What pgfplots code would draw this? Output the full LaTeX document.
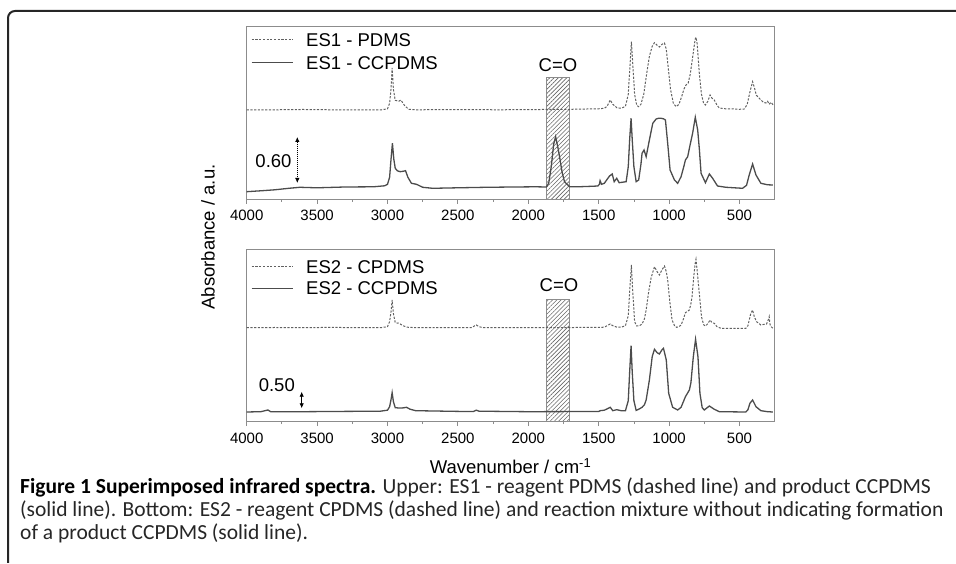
\documentclass[border=0pt]{standalone}
\usepackage{pgfplots}
\pgfplotsset{compat=1.18}
\usetikzlibrary{patterns.meta,arrows.meta}
\usepackage{fontspec}
\setmainfont{Liberation Sans}
\newfontfamily\capfont{Carlito}

\pgfplotsset{
  irax/.style={
    scale only axis, width=527.3pt, height=172.5pt,
    x dir=reverse, xmin=255, xmax=4000,
    ymin=0, ymax=172.5,
    xtick={500,1000,...,4000}, minor x tick num=1,
    xtick pos=left, ytick=\empty,
    tick align=outside, major tick length=4.5pt, minor tick length=2.5pt,
    axis line style={draw=black!45, line width=0.8pt},
    tick style={draw=black!45, line width=0.8pt},
    ticklabel style={font=\fontsize{15}{15}\selectfont},
    xticklabel style={yshift=-3pt},
    /pgf/number format/assume math mode=true,
    /pgf/number format/1000 sep={},
  },
}
\tikzset{
  spdash/.style={black!62, line width=1pt, dash pattern=on 2.2pt off 1.5pt},
  spsolid/.style={black!70, line width=1.3pt},
  cobox/.style={draw=black!45, line width=0.7pt, pattern={Lines[angle=45,distance=3pt,line width=0.6pt]}, pattern color=black!60},
  lbl/.style={inner sep=0, font=\fontsize{18.5}{18.5}\selectfont},
}

\begin{document}
\begin{tikzpicture}[x=1pt,y=1pt]
\path[use as bounding box] (0,0) rectangle (956,564);

% upper panel: ES1
\begin{axis}[irax, at={(246.7pt,364.7pt)}, anchor=south west]
\draw[cobox] (axis cs:1870,0) rectangle (axis cs:1712,122);
\addplot[spdash] coordinates {
(4000,89.3) (3800,89.5) (3600,89.8) (3400,89.5) (3200,89.3) (3050,89.3) (3000,90.5) (2985,96) (2975,110) (2967,131.3) (2958,110) (2945,99) (2920,98) (2905,99.3) (2880,94) (2850,90) (2800,89.5) (2500,89.7) (2200,89.5) (1900,89.8) (1700,90) (1500,90.5) (1460,91) (1440,93) (1418,99.3) (1400,95) (1370,91.5) (1340,91) (1310,93) (1290,105) (1275,140) (1268,157.6) (1260,140) (1245,105) (1230,94) (1216,92.6) (1200,95) (1180,105) (1160,125) (1140,143) (1120,153) (1104,156.6) (1085,154) (1069,152.3) (1050,155) (1033,156.3) (1020,150) (1005,130) (990,110) (970,96) (950,92.6) (930,95) (910,103) (895,110) (880,114.3) (865,116) (850,125) (830,145) (815,160) (809,162) (800,155) (785,125) (770,105) (755,96) (742,94.3) (725,98) (709,104.3) (695,101) (679,99.3) (660,94) (643,91.3) (600,90.5) (550,90.5) (500,90) (466,90.3) (445,95) (425,108) (407,117.6) (395,112) (380,104) (348,99.3) (330,97) (313,96.3) (300,98) (290,95) (275,97) (260,94)
};
\addplot[spsolid] coordinates {
(4000,7.6) (3900,8.5) (3800,9.5) (3700,11) (3622,12) (3500,11.5) (3300,12.3) (3100,12.5) (3020,13.5) (3000,15) (2985,22) (2975,40) (2965,56) (2955,40) (2945,31) (2930,28.5) (2910,27.6) (2890,28) (2872,28.6) (2855,22) (2830,16) (2794,15) (2750,12) (2679,11) (2500,11.5) (2300,12) (2100,12.3) (1950,12.5) (1872,12.3) (1855,16) (1837,32.6) (1820,55) (1806,62.6) (1790,52) (1778,42.6) (1760,27) (1743,17.6) (1707,12.6) (1650,12.5) (1550,13) (1506,13.3) (1495,15) (1490,18.6) (1480,15) (1460,16) (1440,20) (1423,23.3) (1404,25.3) (1390,17.6) (1372,21) (1355,16.6) (1305,17.6) (1290,32.6) (1280,60) (1270,81) (1262,60) (1250,32.6) (1234,17.6) (1216,19.3) (1200,35) (1192,46) (1178,49.3) (1163,42.6) (1140,59.3) (1116,76) (1092,80.3) (1075,81) (1057,81) (1040,80.5) (1026,79.3) (1010,56) (993,29.3) (962,19.3) (939,16) (915,22.6) (895,33) (884,39.3) (868,42.6) (851,54.3) (833,66) (814,82) (797,69.3) (785,50) (773,26) (742,16.6) (714,25.3) (691,21) (656,13.3) (596,12) (478,11) (450,14) (431,24.3) (407,35.3) (383,24.3) (348,16) (300,14.5) (263,14.3)
};
\end{axis}

% lower panel: ES2
\begin{axis}[irax, at={(246.7pt,142.3pt)}, anchor=south west]
\draw[cobox] (axis cs:1870,0) rectangle (axis cs:1712,122.4);
\addplot[spdash] coordinates {
(4000,94) (3800,94.2) (3600,94) (3400,94.3) (3200,94) (3050,94) (3000,95) (2985,100) (2975,110) (2967,121.7) (2958,108) (2945,99) (2918,98.4) (2890,96) (2860,94.5) (2800,94) (2500,94) (2400,94.2) (2380,96) (2369,96.7) (2350,95) (2320,94) (2000,94) (1500,94.3) (1460,94.5) (1440,96) (1418,97.7) (1400,96) (1370,94.5) (1340,94.5) (1310,96) (1290,106) (1278,135) (1268,156.7) (1260,135) (1245,100) (1230,95.7) (1210,96) (1192,97.7) (1175,103) (1163,111.7) (1145,130) (1128,143.7) (1104,155) (1085,150) (1069,146.7) (1050,152) (1033,155.7) (1020,150) (1010,141.7) (995,120) (979,101.7) (960,95.5) (946,94.4) (930,95) (915,96.7) (900,102) (884,109) (856,111.7) (845,118) (837,125) (825,145) (815,158) (809,162.4) (800,150) (781,121.7) (770,105) (755,97) (742,95.7) (725,98) (709,101.7) (695,99) (679,98.4) (660,95) (632,93.4) (500,93.4) (455,93.4) (440,96) (431,101.7) (420,108) (407,111.7) (395,105) (379,100) (348,96.7) (320,97.5) (308,97.7) (295,102) (289,105) (283,97) (275,95) (263,93.4)
};
\addplot[spsolid] coordinates {
(4000,9.7) (3900,10) (3849,11.7) (3830,10) (3600,10) (3300,10.3) (3050,10.5) (3000,11.5) (2985,15) (2975,22) (2967,29) (2958,20) (2945,14) (2920,13.7) (2890,13.8) (2865,14.4) (2840,12.5) (2800,11) (2500,10.3) (2390,10.2) (2369,11.5) (2350,10.5) (2000,10) (1500,10.2) (1490,11) (1460,11.5) (1430,13.5) (1418,14.4) (1400,11) (1372,12) (1340,11) (1310,11) (1290,21) (1280,50) (1270,76) (1262,50) (1250,21) (1234,11.3) (1215,12.5) (1192,14.4) (1175,17) (1163,21.7) (1140,41.7) (1120,65) (1104,72.4) (1085,69) (1069,67.7) (1050,72) (1040,73.4) (1020,61.7) (1003,28.4) (975,14.4) (939,11.7) (915,14.4) (884,25) (856,31.7) (845,39) (828,65) (812,82.4) (795,65) (781,28.4) (765,14) (750,11.7) (714,15.7) (679,12.4) (643,10) (455,9.7) (440,12) (426,18.4) (407,21.7) (383,15) (348,11) (300,10) (263,9.7)
};
\end{axis}

% legends
\draw[spdash] (251.7,524) -- (293.3,524);
\draw[spsolid] (251.7,501.3) -- (293.3,501.3);
\node[lbl, anchor=west] at (306,524) {ES1 - PDMS};
\node[lbl, anchor=west] at (306,501.3) {ES1 - CCPDMS};
\draw[spdash] (251.7,297.3) -- (293.3,297.3);
\draw[spsolid] (251.7,275.7) -- (293.3,275.7);
\node[lbl, anchor=west] at (306,297.3) {ES2 - CPDMS};
\node[lbl, anchor=west] at (306,275.7) {ES2 - CCPDMS};

% C=O labels
\node[lbl] at (558,499) {C=O};
\node[lbl] at (559,279) {C=O};

% scale arrows
\draw[black, line width=0.8pt, dash pattern=on 1pt off 1pt, {Latex[length=5pt,width=4.5pt]}-{Latex[length=5pt,width=4.5pt]}] (297.3,427) -- (297.3,381);
\node[lbl, anchor=east] at (291.7,403) {0.60};
\draw[black, line width=0.8pt, {Latex[length=5pt,width=4.5pt]}-{Latex[length=5pt,width=4.5pt]}] (301.7,172.3) -- (301.7,155.7);
\node[lbl, anchor=east] at (295,179) {0.50};

% axis titles
\node[lbl, rotate=90] at (208,327) {Absorbance / a.u.};
\node[lbl] at (510.5,98) {Wavenumber / cm\textsuperscript{-1}};

% frame
\draw[line width=2pt, black!85, rounded corners=7pt] (8,1) -- (8,553) -- (962,553);

% caption
\begin{scope}[every node/.style={anchor=base west, inner sep=0, font=\capfont\fontsize{21.5}{21.5}\selectfont, text=black!85}]
\node at (20,70) {\textbf{\color{black}Figure 1 Superimposed infrared spectra.} Upper: ES1 - reagent PDMS (dashed line) and product CCPDMS};
\node at (20,47) {(solid line). Bottom: ES2 - reagent CPDMS (dashed line) and reaction mixture without indicating formation};
\node at (20,24) {of a product CCPDMS (solid line).};
\end{scope}
\end{tikzpicture}
\end{document}
